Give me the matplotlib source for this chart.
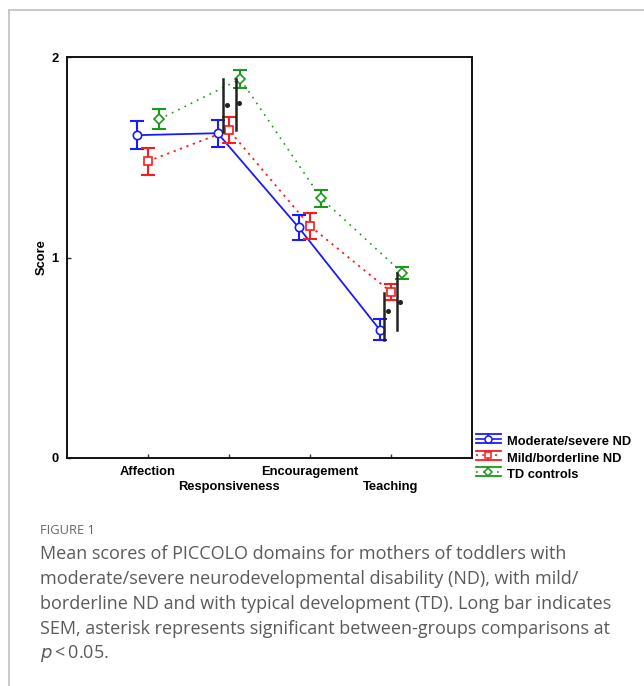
import matplotlib
matplotlib.use("Agg")
import matplotlib.pyplot as plt
from matplotlib.lines import Line2D
from matplotlib.legend_handler import HandlerBase
import numpy as np

# ---------------- data ----------------
domains = ["Affection", "Responsiveness", "Encouragement", "Teaching"]
groups = ["Moderate/severe ND", "Mild/borderline ND", "TD controls"]

mod_mean = [1.61, 1.62, 1.15, 0.64]
mod_err = [0.070, 0.067, 0.063, 0.052]
mild_mean = [1.48, 1.635, 1.157, 0.828]
mild_err = [0.067, 0.065, 0.063, 0.040]
td_mean = [1.69, 1.89, 1.295, 0.923]
td_err = [0.050, 0.045, 0.043, 0.032]

# long SEM bars: (domain index, offset, low, high)
sem_bar_domain = [1, 1, 3, 3]
sem_bar_offset = [-0.075, 0.085, -0.085, 0.07]
sem_bar_low = [1.626, 1.636, 0.589, 0.638]
sem_bar_high = [1.89, 1.89, 0.823, 0.923]
# asterisks (dots)
star_domain = [1, 1, 3, 3]
star_offset = [-0.03, 0.12, -0.04, 0.11]
star_y = [1.76, 1.77, 0.733, 0.778]

y_ticks = [0, 1, 2]

# ---------------- styles ----------------
W, H = 644, 686
fig = plt.figure(figsize=(W / 100, H / 100), dpi=100)
fig.patch.set_facecolor("white")

ax = fig.add_axes([67 / W, 1 - 458 / H, (472 - 67) / W, (458 - 57) / H])

x = np.arange(1, len(domains) + 1)
series = [
    (mod_mean, mod_err, "#1a1aff", "-", "o", -0.14, 1.3),
    (mild_mean, mild_err, "#ff1a1a", (0, (1.2, 2.6)), "s", 0.0, 1.3),
    (td_mean, td_err, "#1a9a1a", (0, (1.0, 3.2)), "D", 0.14, 1.2),
]
for mean, err, col, ls, mk, off, lw in series:
    ax.plot(x + off, mean, color=col, linestyle=ls, linewidth=lw, zorder=2)
    ax.errorbar(x + off, mean, yerr=err, fmt="none", ecolor=col,
                elinewidth=1.5, capsize=5, capthick=1.5, zorder=3)
    ms = 6.0 if mk != "D" else 5.0
    ax.plot(x + off, mean, linestyle="none", marker=mk, markersize=ms,
            markerfacecolor="white", markeredgecolor=col,
            markeredgewidth=1.2, zorder=4)

for d, o, lo, hi in zip(sem_bar_domain, sem_bar_offset, sem_bar_low, sem_bar_high):
    ax.plot([x[d] + o, x[d] + o], [lo, hi], color="#222222", linewidth=1.8, zorder=5)
for d, o, yy in zip(star_domain, star_offset, star_y):
    ax.plot(x[d] + o, yy, marker="o", markersize=2.6, color="#222222",
            linestyle="none", zorder=5)

ax.set_xlim(0, 5)
ax.set_ylim(0, 2)
ax.set_xticks(x)
ax.set_xticklabels([])
ax.set_yticks(y_ticks)
ax.set_yticklabels([str(v) for v in y_ticks], fontfamily="Liberation Sans",
                   fontweight="bold", fontsize=9.3)
ax.tick_params(axis="x", direction="in", length=3, width=1, color="#333333")
ax.tick_params(axis="y", direction="in", length=3, width=1, color="#333333", pad=6)
for s in ax.spines.values():
    s.set_linewidth(1.4)
    s.set_color("#111111")

# staggered category labels
for i, lab in enumerate(domains):
    yoff = -0.07 if i % 2 == 0 else -0.145
    ax.text(x[i], yoff, lab, ha="center", va="center", fontfamily="Liberation Sans",
            fontweight="bold", fontsize=9.3, transform=ax.transData, clip_on=False)

ax.set_ylabel("Score", fontfamily="Liberation Sans", fontweight="bold", fontsize=9.3,
              labelpad=3)


# legend with custom errorbar handles
class ErrHandle:
    def __init__(self, color, ls, marker):
        self.color, self.ls, self.marker = color, ls, marker


class ErrHandler(HandlerBase):
    def create_artists(self, legend, orig, xd, yd, width, height, fontsize, trans):
        c = orig.color
        cy = yd + height / 2
        hh = height * 0.42
        arts = [
            Line2D([xd, xd + width], [cy, cy], color=c, linestyle=orig.ls, lw=1.2),
            Line2D([xd, xd + width], [cy + hh, cy + hh], color=c, lw=1.3),
            Line2D([xd, xd + width], [cy - hh, cy - hh], color=c, lw=1.3),
            Line2D([xd + width / 2, xd + width / 2], [cy - hh, cy + hh], color=c, lw=1.2),
            Line2D([xd + width / 2], [cy], marker=orig.marker, markersize=5 if orig.marker != "D" else 4.2,
                   markerfacecolor="white", markeredgecolor=c, markeredgewidth=1.1, linestyle="none"),
        ]
        for a in arts:
            a.set_transform(trans)
        return arts


handles = [ErrHandle(col, ls, mk) for (_, _, col, ls, mk, _, _) in series]
leg = fig.legend(handles, groups, handler_map={ErrHandle: ErrHandler()},
                 loc="upper left", bbox_to_anchor=(476 / W, 1 - 435 / H),
                 frameon=False, borderpad=0, borderaxespad=0,
                 handlelength=1.9, handleheight=0.9, handletextpad=0.5,
                 labelspacing=0.3,
                 prop={"family": "Liberation Sans", "weight": "bold", "size": 9.3})

# card border
fig.add_artist(Line2D([9 / W, 9 / W], [0, 1 - 10 / H], color="#c0c0c0", lw=1.2,
                      transform=fig.transFigure))
fig.add_artist(Line2D([9 / W, 1], [1 - 10 / H, 1 - 10 / H], color="#c0c0c0", lw=1.2,
                      transform=fig.transFigure))

# caption
cap_col = "#5a5a5a"
fig.text(40 / W, 1 - 531 / H, "FIGURE 1", fontfamily="Open Sans", fontsize=9.3,
         color="#666666", va="center", ha="left")
cap_lines = [
    "Mean scores of PICCOLO domains for mothers of toddlers with",
    "moderate/severe neurodevelopmental disability (ND), with mild/",
    "borderline ND and with typical development (TD). Long bar indicates",
    "SEM, asterisk represents significant between-groups comparisons at",
]
for i, line in enumerate(cap_lines):
    fig.text(40 / W, 1 - (554 + 25 * i) / H, line, fontfamily="Open Sans",
             fontsize=13, color=cap_col, va="center", ha="left")
fig.text(40 / W, 1 - 654 / H, r"$\mathit{p}$" + "\u2009<\u20090.05.", fontfamily="Open Sans",
         fontsize=13, color=cap_col, va="center", ha="left")

fig.savefig("out.png", dpi=100)
